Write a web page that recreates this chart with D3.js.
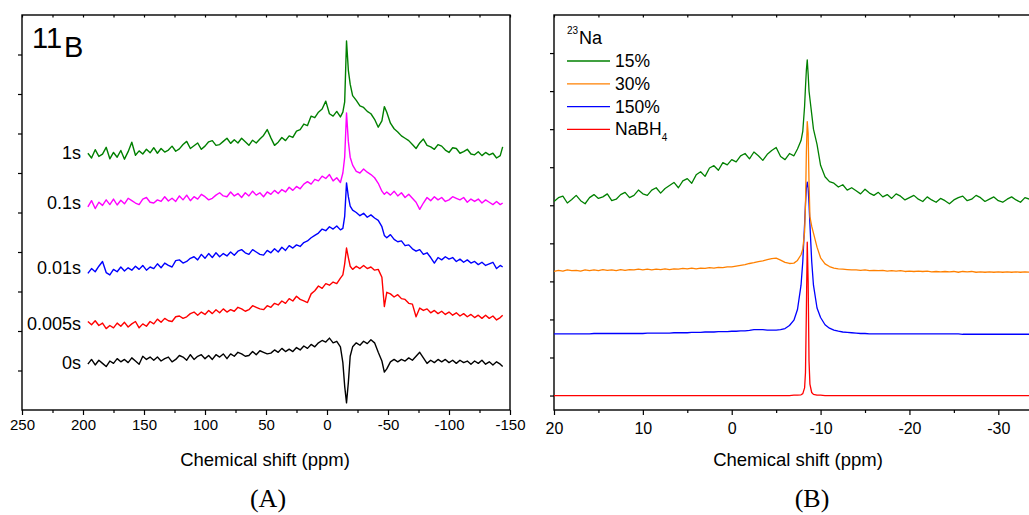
<!DOCTYPE html>
<html>
<head>
<meta charset="utf-8">
<script src="https://cdn.jsdelivr.net/npm/d3@7/dist/d3.min.js"></script>
<style>
  body { margin: 0; background: #fff; }
  svg { display: block; }
  text { font-family: "Liberation Sans", Arial, sans-serif; fill: #000; }
</style>
</head>
<body>
<svg id="chart" width="1029" height="515"></svg>
<script>
// ---- Panel A: 11B spectra, chemical shift grid (ppm) ----
const ppmA = [
  196,193,190,187,184,181,178,175,172,169,
  166,163,160,157,154,151,148,145,142,139,
  136,133,130,127,124,121,118,115,112,109,
  106,103,100,97,94,91,88,85,82,79,
  76,73,70,67,64,61,58,55,52,49,
  46,43,40,37,34,31,28,25,22,19,
  16,13,10,7,4,1,-2,-5,-8,-11,
  -13,-14.5,-16,-17.5,-19,-21,-24,-27,-30,-33,
  -36,-39,-42,-45,-47,-49,-52,-55,-58,-61,
  -64,-67,-70,-73,-76,-79,-82,-85,-88,-91,
  -94,-97,-100,-103,-106,-109,-112,-115,-118,-121,
  -124,-127,-130,-133,-136,-139,-142,-144
];

// intensities (stacked, in plot units 0-100)
const spec1s = [
  65.0,63.8,65.9,64.2,64.8,66.5,63.6,65.2,64.0,65.7,
  63.5,65.4,67.8,64.5,65.6,64.8,66.0,65.1,66.4,65.0,
  66.2,65.3,65.8,66.8,65.5,66.1,67.2,68.0,66.2,66.9,
  67.6,66.0,66.8,67.9,68.2,67.0,67.2,68.0,68.8,67.5,
  68.4,67.6,68.8,67.9,67.0,68.3,67.6,68.6,69.5,71.0,
  68.9,67.0,67.8,69.0,68.2,69.4,69.0,70.6,71.0,72.4,
  72.0,74.4,74.0,75.4,76.2,78.2,75.0,74.4,75.6,74.2,
  75.4,78.0,93.4,86.0,82.5,79.6,78.4,77.0,76.6,75.6,
  75.0,73.6,71.6,73.2,76.8,75.4,72.6,71.2,70.4,69.4,
  68.8,68.2,67.2,66.2,67.6,68.6,67.0,66.6,66.0,67.2,
  66.8,65.8,65.2,66.4,66.2,65.0,65.4,66.0,64.8,64.6,
  65.4,64.4,65.2,64.6,65.0,63.8,64.4,66.6
];
const spec01s = [
  51.4,53.0,51.0,52.6,51.8,53.2,52.0,53.4,51.9,53.1,
  52.2,53.6,53.0,52.4,52.0,53.4,53.8,52.6,52.4,53.2,
  52.8,54.0,52.9,53.6,52.8,54.2,53.2,54.4,53.0,54.0,
  53.4,54.6,54.0,53.2,53.6,54.4,55.0,54.2,54.0,55.2,
  54.2,54.8,53.8,55.0,54.2,55.4,54.4,55.0,54.0,55.2,
  54.6,55.6,54.8,55.8,55.2,56.4,55.6,56.6,56.0,57.2,
  57.8,57.2,58.4,58.0,59.2,58.6,59.6,58.0,58.8,57.6,
  60.0,64.0,75.2,68.0,64.0,62.0,60.4,60.0,61.0,60.2,
  59.6,58.8,57.4,55.4,54.6,55.2,54.4,55.4,54.2,55.0,
  53.8,54.6,53.6,52.6,50.8,52.4,53.8,53.0,54.0,53.2,
  53.8,52.8,53.2,54.0,53.6,53.2,53.8,52.6,53.4,52.8,
  53.4,52.4,53.2,52.6,52.0,52.8,52.0,52.4
];
const spec001s = [
  34.6,35.8,35.0,36.4,37.6,34.8,34.2,35.6,35.0,36.2,
  35.2,36.0,35.4,36.4,35.6,36.6,35.4,36.2,35.8,37.0,
  36.0,37.2,36.6,36.2,37.8,38.0,37.2,37.6,38.4,38.8,
  38.0,39.4,38.4,39.6,38.6,39.8,38.8,39.6,39.0,40.0,
  39.2,40.2,40.6,39.8,39.4,40.6,40.0,39.4,39.2,40.4,
  39.8,40.8,40.0,41.2,40.4,41.6,41.0,41.8,41.4,42.4,
  42.8,43.6,44.2,44.8,45.8,45.4,46.4,45.8,46.6,45.6,
  46.0,49.0,57.5,54.0,51.6,50.6,50.0,49.2,49.8,48.8,
  49.4,48.6,48.0,46.4,44.2,43.6,44.4,43.2,42.6,42.8,
  41.6,41.8,40.8,40.2,40.6,39.4,39.8,38.6,37.2,38.6,
  38.0,38.8,38.2,38.6,37.6,38.2,37.4,38.0,37.2,37.6,
  36.8,37.4,36.6,37.0,37.4,35.8,36.6,36.2
];
const spec0005s = [
  22.4,21.6,22.6,21.4,22.0,20.6,21.4,20.8,22.0,21.2,
  22.2,21.0,21.8,22.4,20.8,21.8,21.2,22.4,21.8,23.0,
  22.2,23.2,22.6,22.4,23.6,23.8,23.2,23.6,24.4,24.8,
  24.0,24.8,24.2,25.2,24.4,25.4,24.6,25.6,24.8,25.4,
  25.0,26.0,25.6,25.0,25.4,26.4,26.0,25.6,25.4,26.4,
  26.0,27.0,26.6,27.6,27.0,28.2,27.6,28.8,28.0,27.6,
  27.2,29.4,30.2,31.4,30.8,32.0,31.6,32.4,32.0,33.4,
  34.2,37.0,41.0,38.6,36.4,35.6,36.4,35.8,36.6,35.8,
  36.2,35.4,35.6,33.6,26.2,29.8,29.4,28.6,29.2,28.2,
  28.0,27.0,26.8,23.6,25.8,25.2,25.6,24.6,25.2,24.4,
  25.0,24.2,24.8,24.0,24.6,23.8,24.4,23.6,24.2,23.4,
  24.0,23.2,24.0,23.2,23.8,22.8,23.4,24.0
];
const spec0s = [
  11.6,12.8,11.4,12.6,11.8,11.0,12.4,11.8,13.0,12.2,
  12.8,12.0,13.2,12.4,11.6,13.6,12.8,13.4,12.6,13.4,
  12.4,13.0,13.4,12.2,12.8,13.8,13.4,12.6,14.0,12.8,
  13.6,14.0,13.0,13.8,12.8,14.0,13.4,14.2,13.0,14.2,
  13.6,14.6,14.2,13.6,13.8,14.8,14.0,15.0,14.6,14.2,
  14.4,15.2,14.6,15.6,14.8,15.4,14.8,15.8,15.2,16.2,
  15.6,16.6,16.0,17.0,17.6,17.2,18.2,17.0,17.4,16.0,
  12.0,6.0,1.8,7.0,13.6,16.0,17.0,16.4,17.4,16.8,
  17.8,17.0,14.6,12.4,9.6,10.4,12.2,12.8,12.2,12.8,
  12.4,13.2,12.6,13.6,14.6,13.2,11.8,12.6,12.0,12.8,
  12.2,12.8,12.0,12.6,11.8,12.6,12.0,12.4,11.6,12.4,
  11.8,12.6,11.6,12.2,11.4,12.2,11.6,11.0
];

const seriesA = [spec1s, spec01s, spec001s, spec0005s, spec0s];
const labelsA = ['1s', '0.1s', '0.01s', '0.005s', '0s'];
const colorsA = ['#008000', '#ff00ff', '#0000ff', '#ff0000', '#000000'];
const ticksA = [250, 200, 150, 100, 50, 0, -50, -100, -150];
const minorA = [225, 175, 125, 75, 25, -25, -75, -125];

// ---- Panel B: 23Na spectra ----
const ppmB = [
  20,19.5,19,18.5,18,17.5,17,16.5,16,15.5,
  15,14.5,14,13.5,13,12.5,12,11.5,11,10.5,
  10,9.5,9,8.5,8,7.5,7,6.5,6,5.5,
  5,4.5,4,3.5,3,2.5,2,1.5,1,0.5,
  0,-0.5,-1,-1.5,-2,-2.5,-3,-3.5,-4,-4.5,
  -5,-5.5,-6,-6.5,-7,-7.4,-7.8,-8,-8.2,-8.3,
  -8.4,-8.5,-8.6,-8.7,-8.8,-9,-9.2,-9.6,-10,-10.5,
  -11,-11.5,-12,-12.5,-13,-13.5,-14,-14.5,-15,-15.5,
  -16,-16.5,-17,-17.5,-18,-18.5,-19,-19.5,-20,-20.5,
  -21,-21.5,-22,-22.5,-23,-23.5,-24,-24.5,-25,-25.5,
  -26,-26.5,-27,-27.5,-28,-28.5,-29,-29.5,-30,-30.5,
  -31,-31.5,-32,-32.5,-33,-33.5,-34
];
const na15 = [
  5.10,5.20,5.24,5.06,5.15,5.26,5.12,5.04,5.20,5.28,
  5.18,5.22,5.30,5.12,5.16,5.28,5.34,5.20,5.26,5.40,
  5.30,5.26,5.40,5.46,5.32,5.44,5.52,5.60,5.46,5.64,
  5.70,5.58,5.80,5.88,5.76,5.98,6.04,5.92,6.12,6.06,
  6.20,6.14,6.30,6.36,6.22,6.40,6.30,6.18,6.34,6.44,
  6.52,6.28,6.20,6.36,6.30,6.48,6.70,6.95,7.60,8.10,
  8.55,8.82,8.45,8.00,7.80,7.40,7.00,6.60,6.05,5.75,
  5.62,5.58,5.48,5.54,5.40,5.46,5.38,5.30,5.42,5.32,
  5.26,5.34,5.22,5.28,5.18,5.30,5.24,5.14,5.20,5.26,
  5.16,5.10,5.22,5.14,5.08,5.18,5.12,5.04,5.14,5.20,
  5.24,5.12,5.16,5.26,5.20,5.10,5.16,5.22,5.12,5.08,
  5.16,5.22,5.14,5.08,5.20,5.16,5.12
];
const na30 = [
  3.26,3.29,3.27,3.30,3.28,3.29,3.27,3.30,3.28,3.30,
  3.28,3.31,3.29,3.30,3.28,3.31,3.29,3.31,3.30,3.32,
  3.30,3.32,3.30,3.32,3.31,3.33,3.31,3.33,3.32,3.34,
  3.33,3.35,3.33,3.35,3.34,3.36,3.35,3.37,3.36,3.38,
  3.38,3.40,3.42,3.44,3.47,3.49,3.52,3.54,3.57,3.60,
  3.61,3.56,3.50,3.47,3.48,3.55,3.70,3.85,4.30,5.00,
  6.40,7.20,6.90,5.60,4.70,4.45,4.27,3.90,3.62,3.46,
  3.39,3.35,3.33,3.32,3.31,3.30,3.30,3.29,3.30,3.28,
  3.29,3.28,3.29,3.27,3.28,3.27,3.28,3.26,3.27,3.26,
  3.27,3.26,3.27,3.25,3.26,3.25,3.26,3.25,3.26,3.24,
  3.26,3.25,3.26,3.24,3.25,3.24,3.25,3.24,3.25,3.24,
  3.25,3.24,3.25,3.24,3.25,3.24,3.25
];
const na150 = [
  1.62,1.62,1.62,1.62,1.62,1.62,1.62,1.62,1.62,1.63,
  1.63,1.63,1.63,1.63,1.63,1.63,1.63,1.63,1.63,1.63,
  1.63,1.64,1.64,1.64,1.64,1.64,1.64,1.65,1.65,1.65,
  1.65,1.66,1.66,1.66,1.67,1.67,1.67,1.68,1.68,1.68,
  1.69,1.69,1.70,1.70,1.71,1.73,1.73,1.73,1.72,1.72,
  1.72,1.73,1.76,1.84,1.98,2.26,2.90,3.53,4.50,5.03,
  5.45,5.61,5.45,5.03,4.50,3.53,2.90,2.30,2.05,1.86,
  1.77,1.72,1.69,1.67,1.66,1.65,1.64,1.63,1.63,1.62,
  1.62,1.62,1.62,1.62,1.62,1.62,1.62,1.62,1.62,1.62,
  1.62,1.62,1.62,1.62,1.62,1.62,1.62,1.62,1.62,1.62,
  1.61,1.61,1.61,1.61,1.61,1.61,1.61,1.61,1.61,1.61,
  1.61,1.61,1.61,1.61,1.61,1.61,1.61
];
const naBH4 = [
  0,0,0,0,0,0,0,0,0,0,
  0,0,0,0,0,0,0,0,0,0,
  0,0,0,0,0,0,0,0,0,0,
  0,0,0,0,0,0,0,0,0,0,
  0,0,0,0,0,0,0,0,0,0,
  0,0,0,0,0.01,0.01,0.02,0.05,0.2,0.6,
  2.2,4.03,3.0,0.9,0.3,0.08,0.03,0.01,0.01,0,
  0,0,0,0,0,0,0,0,0,0,
  0,0,0,0,0,0,0,0,0,0,
  0,0,0,0,0,0,0,0,0,0,
  0,0,0,0,0,0,0,0,0,0,
  0,0,0,0,0,0,0
];

const seriesB = [na15, na30, na150, naBH4];
const legendB = ['15%', '30%', '150%', 'NaBH'];
const colorsB = ['#008000', '#ff8000', '#0000ff', '#ff0000'];
const ticksB = [20, 10, 0, -10, -20, -30];
const minorB = [15, 5, -5, -15, -25];

const svg = d3.select('#chart');
const plotTop = 15, plotBottom = 410;

// Scales
const xA = d3.scaleLinear().domain([250, -150]).range([22, 510]);
const yA = d3.scaleLinear().domain([0, 100]).range([plotBottom, plotTop]);
const xB = d3.scaleLinear().domain([20, -30]).range([554, 998.3]);
const yB = d3.scaleLinear().domain([-0.38, 10]).range([plotBottom, plotTop]);

// Draw ticks + frame for one panel
function drawAxes(x, y, major, minor, yTicks, frameRight, fontSize, pad) {
  const g = svg.append('g');

  const bx = g.append('g').attr('transform', `translate(0,${plotBottom})`)
    .call(d3.axisBottom(x).tickValues(major).tickSize(5).tickPadding(pad).tickFormat(d => String(d)));
  bx.attr('font-size', fontSize).attr('font-family', '"Liberation Sans", Arial, sans-serif');

  g.append('g').attr('transform', `translate(0,${plotBottom})`)
    .call(d3.axisBottom(x).tickValues(minor).tickSize(3).tickFormat(''));

  // small inward ticks on the top edge
  g.append('g').attr('transform', `translate(0,${plotTop})`)
    .call(d3.axisBottom(x).tickValues(major.concat(minor)).tickSize(2.5).tickFormat(''));

  g.append('g').attr('transform', `translate(${x.range()[0]},0)`)
    .call(d3.axisLeft(y).tickValues(yTicks).tickSize(4).tickFormat(''));

  g.selectAll('.domain').remove();
  g.selectAll('.tick line').attr('stroke-width', 1.2);

  g.append('rect')
    .attr('x', x.range()[0]).attr('y', plotTop)
    .attr('width', frameRight - x.range()[0]).attr('height', plotBottom - plotTop)
    .attr('fill', 'none').attr('stroke', '#000').attr('stroke-width', 1.4);
}

drawAxes(xA, yA, ticksA, minorA, d3.range(10, 100, 10), 510, 15, 4);
drawAxes(xB, yB, ticksB, minorB, d3.range(0, 10), 1045, 16, 8);

// Spectra
const lineA = d3.line().x((d, i) => xA(ppmA[i])).y(d => yA(d));
const lineB = d3.line().x((d, i) => xB(ppmB[i])).y(d => yB(d));

svg.append('g').selectAll('path')
  .data(seriesA)
  .join('path')
  .attr('d', lineA)
  .attr('fill', 'none')
  .attr('stroke', (d, i) => colorsA[i])
  .attr('stroke-width', 1.4)
  .attr('stroke-linejoin', 'round');

svg.append('g').selectAll('path')
  .data(seriesB.slice().reverse())
  .join('path')
  .attr('d', lineB)
  .attr('fill', 'none')
  .attr('stroke', (d, i) => colorsB[colorsB.length - 1 - i])
  .attr('stroke-width', 1.3)
  .attr('stroke-linejoin', 'round');

// Trace labels (panel A), placed next to the start of each trace
svg.append('g').selectAll('text')
  .data(labelsA)
  .join('text')
  .attr('x', 81)
  .attr('y', (d, i) => yA(d3.mean(seriesA[i].slice(0, 6))) + 5.5)
  .attr('text-anchor', 'end')
  .attr('font-size', 18)
  .text(d => d);

// Nucleus tag, panel A
svg.append('text').attr('x', 32).attr('y', 48).attr('font-size', 29).text('11');
svg.append('text').attr('x', 64).attr('y', 57).attr('font-size', 29).text('B');

// Legend, panel B
const leg = svg.append('g');
leg.append('text').attr('x', 567).attr('y', 34).attr('font-size', 10).text('23');
leg.append('text').attr('x', 579).attr('y', 44).attr('font-size', 18).text('Na');

legendB.forEach((name, i) => {
  const ly = 61 + i * 22.8;
  leg.append('line')
    .attr('x1', 567).attr('x2', 610).attr('y1', ly).attr('y2', ly)
    .attr('stroke', colorsB[i]).attr('stroke-width', 1.3);
  const t = leg.append('text').attr('x', 615).attr('y', ly + 6).attr('font-size', 17.5).text(name);
  if (name === 'NaBH') {
    t.append('tspan').attr('font-size', 10).attr('dy', 6).text('4');
  }
});

// Axis titles
svg.append('text').attr('x', 265).attr('y', 466).attr('text-anchor', 'middle')
  .attr('font-size', 18.5).text('Chemical shift (ppm)');
svg.append('text').attr('x', 798).attr('y', 466).attr('text-anchor', 'middle')
  .attr('font-size', 18.5).text('Chemical shift (ppm)');

// Panel captions
svg.append('text').attr('x', 268).attr('y', 507).attr('text-anchor', 'middle')
  .attr('font-size', 26).style('font-family', '"Liberation Serif", "DejaVu Serif", serif').text('(A)');
svg.append('text').attr('x', 812).attr('y', 507).attr('text-anchor', 'middle')
  .attr('font-size', 26).style('font-family', '"Liberation Serif", "DejaVu Serif", serif').text('(B)');
</script>
</body>
</html>
